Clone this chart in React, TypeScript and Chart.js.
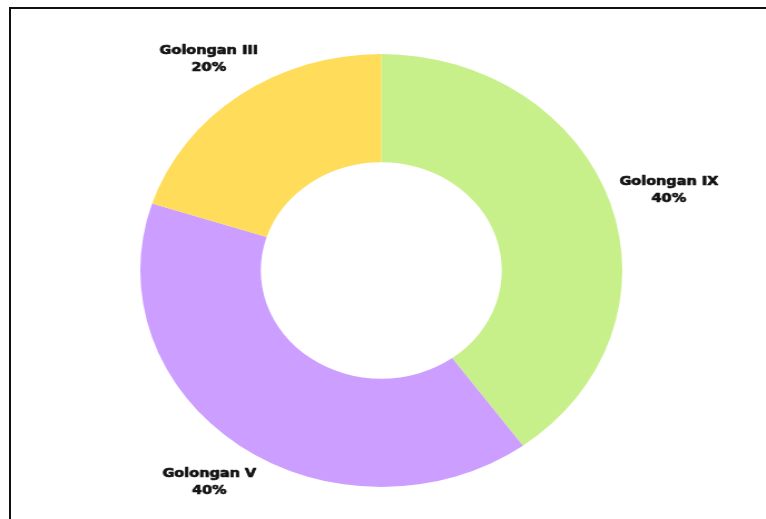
import React, { useEffect, useRef } from 'react';
import { Chart, registerables } from 'chart.js';

Chart.register(...registerables);

const categories = ['Golongan IX', 'Golongan V', 'Golongan III'];
const values = [40, 40, 20];
const colors = ['#C8F08A', '#CC9EFF', '#FFDC5A'];

const STRETCH = 1.1132;
const CANVAS_W = 688;
const CANVAS_H = 519;

const outsideLabels = {
  id: 'outsideLabels',
  afterDatasetsDraw(chart: any) {
    const ctx = chart.ctx;
    const meta = chart.getDatasetMeta(0);
    const data = chart.data.datasets[0].data as number[];
    const total = data.reduce((a, b) => a + b, 0);
    const lh = 17;
    ctx.save();
    ctx.font = 'bold 13px "DejaVu Sans", sans-serif';
    ctx.fillStyle = '#111';
    ctx.strokeStyle = '#111';
    ctx.lineWidth = 0.7;
    ctx.lineJoin = 'round';
    ctx.textAlign = 'center';
    ctx.textBaseline = 'middle';
    meta.data.forEach((arc: any, i: number) => {
      const p = arc.getProps(['x', 'y', 'startAngle', 'endAngle', 'outerRadius'], true);
      const mid = (p.startAngle + p.endAngle) / 2;
      const dx = Math.cos(mid);
      const dy = Math.sin(mid);
      const lines = [String(chart.data.labels[i]), Math.round((data[i] / total) * 100) + '%'];
      const w = Math.max(...lines.map((l) => ctx.measureText(l).width));
      const h = lines.length * lh;
      const cx = p.x + dx * (p.outerRadius + 34 + 0.25 * w * Math.abs(dx));
      const cy = p.y + dy * (p.outerRadius + 38 + h * 0.2);
      lines.forEach((l, j) => {
        const ty = cy - h / 2 + lh / 2 + j * lh;
        ctx.strokeText(l, cx, ty);
        ctx.fillText(l, cx, ty);
      });
    });
    ctx.restore();
  },
};

export default function App() {
  const ref = useRef<HTMLCanvasElement | null>(null);
  useEffect(() => {
    if (!ref.current) return;
    const chart = new Chart(ref.current, {
      type: 'doughnut',
      data: {
        labels: categories,
        datasets: [
          {
            data: values,
            backgroundColor: colors,
            borderWidth: 0,
          },
        ],
      },
      options: {
        responsive: false,
        animation: false,
        devicePixelRatio: 1,
        cutout: '50%',
        layout: { padding: { top: 54, bottom: 32, left: 126, right: 129 } },
        plugins: {
          legend: { display: false },
          tooltip: { enabled: false },
        },
      },
      plugins: [outsideLabels],
    });
    return () => chart.destroy();
  }, []);

  return (
    <div
      style={{
        position: 'fixed',
        left: 0,
        top: 0,
        width: 766,
        height: 519,
        overflow: 'hidden',
        background: '#fff',
      }}
    >
      <div
        style={{
          position: 'absolute',
          left: 9,
          top: 7,
          width: 900,
          height: 700,
          border: '2px solid #111',
          boxSizing: 'border-box',
        }}
      />
      <div
        style={{
          position: 'absolute',
          left: 0,
          top: 0,
          width: CANVAS_W,
          height: CANVAS_H,
          transform: `scaleX(${STRETCH})`,
          transformOrigin: '0 0',
        }}
      >
        <canvas ref={ref} width={CANVAS_W} height={CANVAS_H} />
      </div>
    </div>
  );
}
